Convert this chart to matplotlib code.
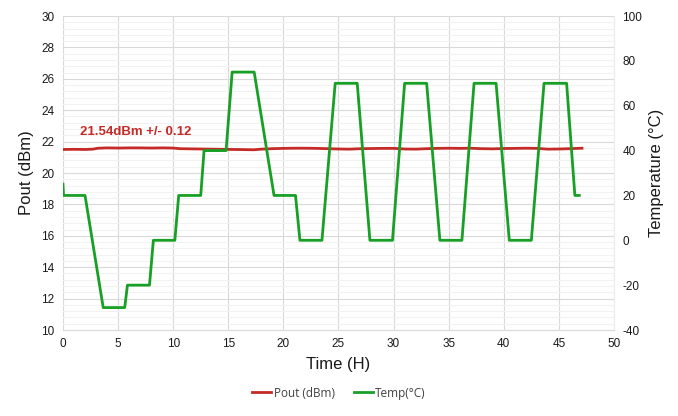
import numpy as np
import matplotlib.pyplot as plt
from matplotlib.ticker import MultipleLocator

# temperature profile (hours, degC)
temp_t = [0.0, 0.05, 2.0, 3.65, 5.6, 5.85, 7.85, 8.2, 10.15, 10.5, 12.5, 12.8,
          14.8, 15.35, 17.35, 19.15, 21.1, 21.5, 23.5, 24.7, 26.7, 27.85,
          29.9, 31.0, 33.0, 34.2, 36.2, 37.3, 39.3, 40.5, 42.5, 43.65,
          45.7, 46.45, 46.85]
temp_c = [25, 20, 20, -30, -30, -20, -20, 0, 0, 20, 20, 40,
          40, 75, 75, 20, 20, 0, 0, 70, 70, 0,
          0, 70, 70, 0, 0, 70, 70, 0, 0, 70,
          70, 20, 20]

# output power (hours, dBm)
pout_t = [0, 1, 2, 2.7, 3.2, 4, 5, 6, 7, 8, 9, 10, 10.6, 11.5, 12.5, 13.5, 14.5,
          15.5, 16.5, 17.3, 18, 19, 20, 21, 22, 23, 24, 25, 26, 27, 28, 29, 30,
          31, 32, 33, 34, 35, 36, 37, 38, 39, 40, 41, 42, 43, 44, 45, 46, 47.1]
pout_db = [21.50, 21.51, 21.50, 21.52, 21.58, 21.60, 21.59, 21.60, 21.60, 21.59,
           21.60, 21.59, 21.55, 21.54, 21.53, 21.52, 21.51, 21.50, 21.49, 21.48,
           21.52, 21.55, 21.57, 21.58, 21.58, 21.57, 21.55, 21.53, 21.52, 21.55,
           21.56, 21.57, 21.57, 21.53, 21.52, 21.55, 21.57, 21.58, 21.57, 21.58,
           21.55, 21.54, 21.56, 21.57, 21.58, 21.57, 21.52, 21.53, 21.55, 21.58]

red = "#c42a26"
green = "#17a025"
txt = "#404040"

plt.rcParams['font.family'] = ['Liberation Sans', 'DejaVu Sans']
plt.rcParams['axes.unicode_minus'] = False

fig = plt.figure(figsize=(6.78, 4.16), dpi=100)
ax = fig.add_axes([0.0929, 0.2067, 0.8127, 0.7548])
ax2 = ax.twinx()

ax.plot(pout_t, pout_db, color=red, lw=2.0, zorder=3, label="Pout (dBm)")
ax2.plot(temp_t, temp_c, color=green, lw=2.0, zorder=3, label="Temp(°C)")

ax.set_xlim(0, 50)
ax.set_ylim(10, 30)
ax2.set_ylim(-40, 100)
ax.xaxis.set_major_locator(MultipleLocator(5))
ax.yaxis.set_major_locator(MultipleLocator(2))
ax.yaxis.set_minor_locator(MultipleLocator(0.4))
ax2.yaxis.set_major_locator(MultipleLocator(20))

ax.grid(True, which='major', color='#d9d9d9', lw=0.8)
ax.grid(True, which='minor', axis='y', color='#f2f2f2', lw=0.8)
ax.set_axisbelow(True)

for a in (ax, ax2):
    for s in a.spines.values():
        s.set_visible(False)
    a.tick_params(which='both', length=0, labelsize=8.5, colors='#1a1a1a', pad=6)
ax.spines['bottom'].set_visible(True)
ax.spines['bottom'].set_color('#d9d9d9')
ax.spines['right'].set_visible(True)
ax.spines['right'].set_color('#ececec')

ax.set_xlabel("Time (H)", fontsize=12, color='#1a1a1a', labelpad=5)
ax.set_ylabel("Pout (dBm)", fontsize=12, color='#1a1a1a', labelpad=5)
ax2.set_ylabel("Temperature (°C)", fontsize=12, color='#1a1a1a', labelpad=5)

ax.text(1.5, 22.4, "21.54dBm +/- 0.12", color=red, fontsize=9.5,
        fontweight='bold')

h1, l1 = ax.get_legend_handles_labels()
h2, l2 = ax2.get_legend_handles_labels()
fig.legend(h1 + h2, l1 + l2, loc='center', bbox_to_anchor=(0.5, 0.055),
           ncol=2, frameon=False, handlelength=1.6,
           handletextpad=0.2, columnspacing=1.6, labelcolor=txt,
           prop={'family': ['Open Sans', 'DejaVu Sans'], 'size': 8.5})

fig.savefig("out.png", dpi=100)
